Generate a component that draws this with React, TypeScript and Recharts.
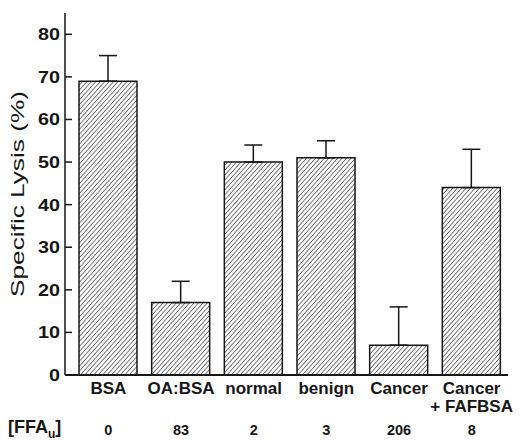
import { BarChart, Bar, XAxis, YAxis, ErrorBar } from 'recharts';

const categories = ['BSA', 'OA:BSA', 'normal', 'benign', 'Cancer', 'Cancer\n+ FAFBSA'];
const lysis = [69, 17, 50, 51, 7, 44];
const lysisErr = [6, 5, 4, 4, 9, 9];
const ffaU = ['0', '83', '2', '3', '206', '8'];
const yTicks = [0, 10, 20, 30, 40, 50, 60, 70, 80];

const FONT = '"Liberation Sans", Arial, Helvetica, sans-serif';
const INK = '#161616';

const chartData = categories.map((category, i) => ({
  category,
  lysis: lysis[i],
  err: [0, lysisErr[i]],
}));

function CategoryTick({ x, y, payload, index }: any) {
  const lines = String(payload.value).split('\n');
  return (
    <g>
      {lines.map((line, i) => (
        <text
          key={i}
          x={x}
          y={y + 11 + i * 18}
          textAnchor="middle"
          fontFamily={FONT}
          fontWeight="bold"
          fontSize={17}
          fill={INK}
        >
          {line}
        </text>
      ))}
      <text
        x={x}
        y={y + 52}
        textAnchor="middle"
        fontFamily={FONT}
        fontWeight="bold"
        fontSize={14.5}
        fill={INK}
      >
        {ffaU[index]}
      </text>
    </g>
  );
}

// ticks point into the plot, label sits left of the axis
function LysisTick({ x, y, payload }: any) {
  const s = String(payload.value);
  return (
    <g>
      <line x1={x + 5} y1={y} x2={x + 12} y2={y} stroke={INK} strokeWidth={1.5} />
      <text
        x={x}
        y={y + 6}
        textAnchor="end"
        fontFamily={FONT}
        fontWeight="bold"
        fontSize={17}
        fill={INK}
        textLength={11 * s.length}
        lengthAdjust="spacingAndGlyphs"
      >
        {s}
      </text>
    </g>
  );
}

function YLabel({ viewBox }: any) {
  const cy = viewBox.y + viewBox.height / 2;
  return (
    <text
      x={24}
      y={cy}
      transform={`rotate(-90, 24, ${cy})`}
      textAnchor="middle"
      fontFamily={FONT}
      fontSize={18}
      fill={INK}
      textLength={206}
      lengthAdjust="spacingAndGlyphs"
    >
      Specific Lysis (%)
    </text>
  );
}

export default function App() {
  return (
    <div style={{ position: 'absolute', left: 0, top: 0, width: 522, height: 440, background: '#fff' }}>
      <BarChart
        width={522}
        height={440}
        data={chartData}
        margin={{ top: 13, right: 14, left: 0, bottom: 0 }}
        barSize={58}
      >
        <defs>
          <pattern id="hatch" width="3.3" height="10" patternUnits="userSpaceOnUse" patternTransform="rotate(42)">
            <line x1="0" y1="0" x2="0" y2="10" stroke="#111" strokeWidth="1.1" />
          </pattern>
        </defs>
        <XAxis
          dataKey="category"
          interval={0}
          height={65}
          padding={{ left: 7, right: 0 }}
          tickLine={false}
          axisLine={{ stroke: INK, strokeWidth: 2 }}
          tick={<CategoryTick />}
        />
        <YAxis
          width={65}
          domain={[0, 85]}
          ticks={yTicks}
          allowDataOverflow
          tickSize={0}
          tickMargin={5}
          tickLine={false}
          axisLine={{ stroke: INK, strokeWidth: 1.5 }}
          tick={<LysisTick />}
          label={<YLabel />}
        />
        <Bar
          dataKey="lysis"
          fill="url(#hatch)"
          stroke={INK}
          strokeWidth={1.5}
          isAnimationActive={false}
        >
          <ErrorBar dataKey="err" width={9} stroke={INK} strokeWidth={1.5} direction="y" />
        </Bar>
      </BarChart>
      <div
        style={{
          position: 'absolute',
          left: 8,
          top: 417,
          fontFamily: FONT,
          fontWeight: 'bold',
          fontSize: 18,
          color: INK,
          lineHeight: '20px',
          whiteSpace: 'nowrap',
        }}
      >
        [FFA<sub style={{ fontSize: 12, verticalAlign: -5, lineHeight: 0 }}>u</sub>]
      </div>
    </div>
  );
}
